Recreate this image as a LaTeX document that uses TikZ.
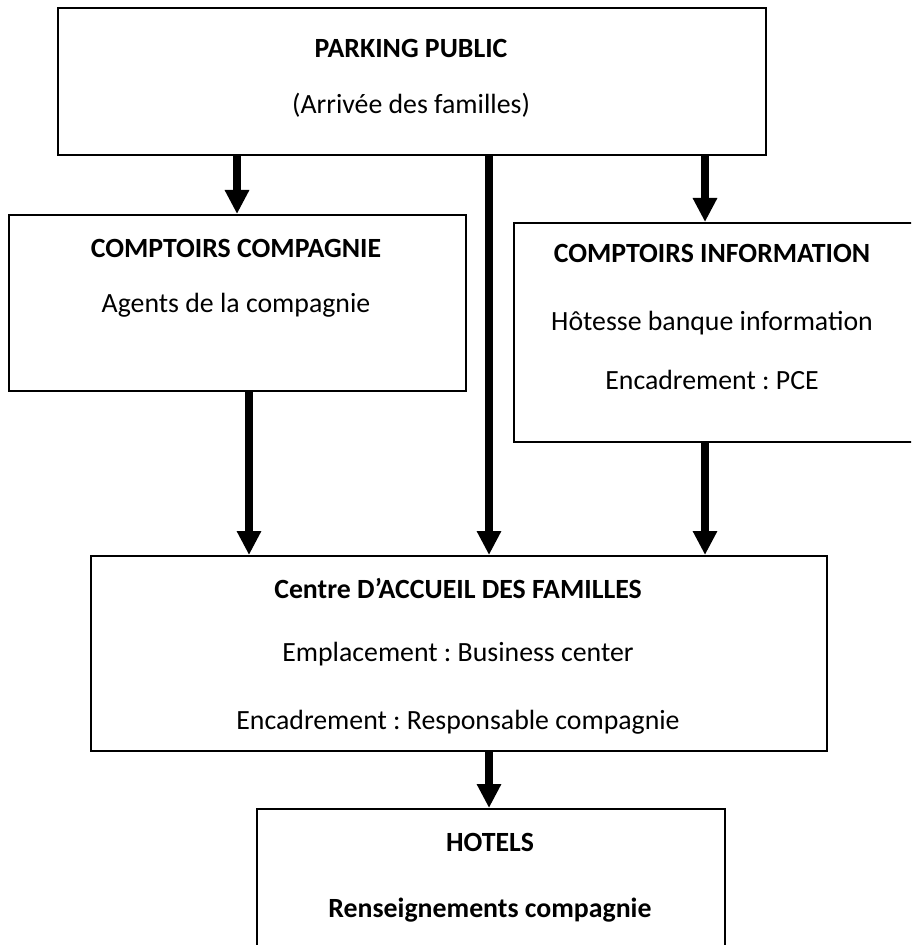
\documentclass[tikz,border=0pt]{standalone}
\usepackage{fontspec}
\setmainfont{Carlito}
\usetikzlibrary{arrows.meta}
\frenchspacing
\begin{document}
\begin{tikzpicture}[x=0.5pt,y=-0.5pt,
  box/.style={draw,line width=1pt,rectangle,inner sep=0pt,anchor=north west},
  txt/.style={font=\fontsize{13.9}{16}\selectfont,inner sep=0pt},
  btxt/.style={font=\fontsize{13.9}{16}\selectfont\bfseries,inner sep=0pt},
  arr/.style={line width=4pt,-{Triangle[length=12pt,width=11.5pt]}}]
\useasboundingbox[fill=white] (0,0) rectangle (911,945);
\clip (0,0) rectangle (911,945);
% boxes
\node[box,minimum width=354pt,minimum height=73.5pt] (parking) at (57,7) {};
\node[box,minimum width=228.5pt,minimum height=88pt] (compagnie) at (8,214) {};
\node[box,minimum width=201pt,minimum height=109.5pt] (info) at (513,222) {};
\node[box,minimum width=368pt,minimum height=97.5pt] (centre) at (90,555) {};
\node[box,minimum width=234pt,minimum height=80pt] (hotels) at (256,808) {};
% texts
\node[btxt] (t1) at (411,48) {PARKING PUBLIC};
\node[txt] (t2) at (411,105) {(Arrivée des familles)};
\node[btxt] (t3) at (236,248) {COMPTOIRS COMPAGNIE};
\node[txt] (t4) at (236,305) {Agents de la compagnie};
\node[btxt] (t5) at (712,253) {COMPTOIRS INFORMATION};
\node[txt] (t6) at (712,323) {Hôtesse banque information};
\node[txt] (t7) at (712,380) {Encadrement : PCE};
\node[btxt] (t8) at (458,588) {Centre D’ACCUEIL DES FAMILLES};
\node[txt] (t9) at (458,654) {Emplacement : Business center};
\node[txt] (t10) at (458,722) {Encadrement : Responsable compagnie};
\node[btxt] (t11) at (490,842) {HOTELS};
\node[btxt] (t12) at (490,910) {Renseignements compagnie};
% arrows
\draw[arr] (parking.south -| 237,0) -- (compagnie.north -| 237,0);
\draw[arr] (parking.south -| 489,0) -- (centre.north -| 489,0);
\draw[arr] (parking.south -| 705,0) -- (info.north -| 705,0);
\draw[arr] (compagnie.south -| 249,0) -- (centre.north -| 249,0);
\draw[arr] (info.south -| 705,0) -- (centre.north -| 705,0);
\draw[arr] (centre.south -| 489,0) -- (hotels.north -| 489,0);
\end{tikzpicture}
\end{document}
